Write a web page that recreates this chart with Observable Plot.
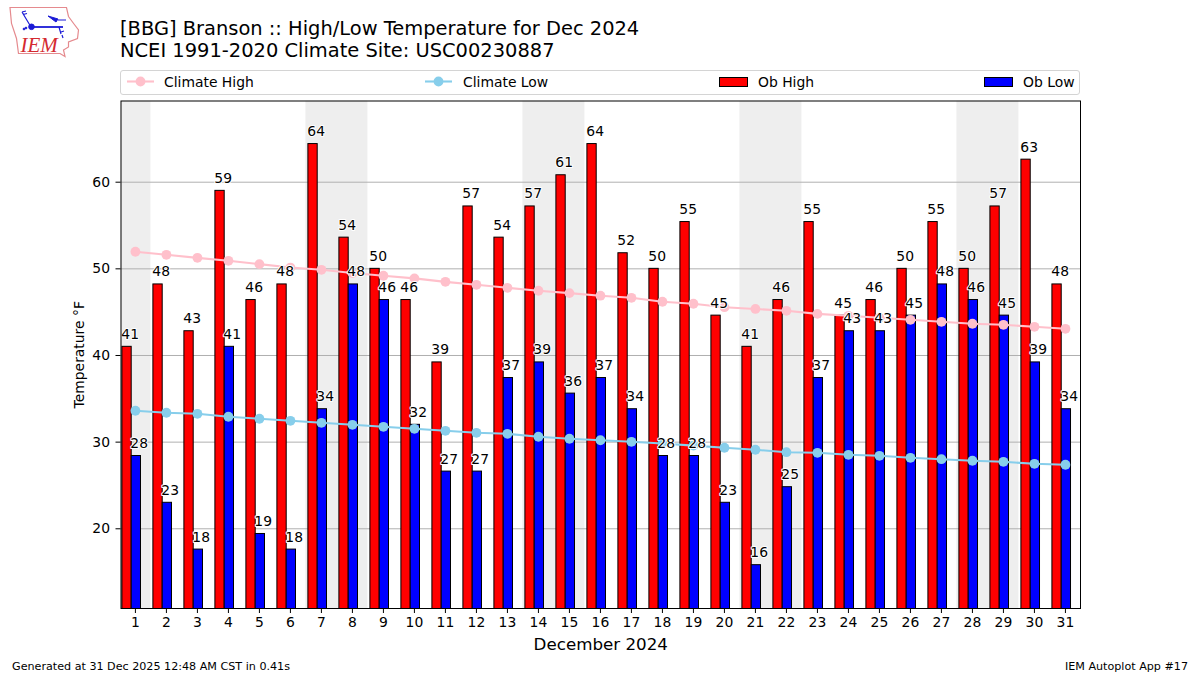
<!DOCTYPE html>
<html>
<head>
<meta charset="utf-8">
<script src="https://cdn.jsdelivr.net/npm/d3@7"></script>
<script src="https://cdn.jsdelivr.net/npm/@observablehq/plot@0.6"></script>
<style>
  html, body { margin: 0; padding: 0; background: #fff; }
  body { width: 1200px; height: 675px; overflow: hidden; font-family: "DejaVu Sans", sans-serif; color: #000; }
  #page { position: relative; width: 1200px; height: 675px; }
  #head { position: relative; height: 96px; }
  #logo { position: absolute; left: 0; top: 0; }
  #title { position: absolute; left: 120px; top: 18px; font-size: 19.44px; line-height: 22px; white-space: nowrap; }
  #legend { position: absolute; left: 120px; top: 70px; width: 958px; height: 23px; border: 1px solid #d4d4d4; border-radius: 3px; box-sizing: content-box; }
  .item { position: absolute; top: 0; height: 23px; line-height: 22px; font-size: 13.9px; white-space: nowrap; }
  .item svg { position: absolute; left: 0; top: 0; overflow: visible; }
  .item span { position: absolute; top: 0; }
  #chart svg { display: block; }
  #foot { position: absolute; left: 12px; right: 12px; top: 660px; font-size: 11.15px; line-height: 14px; display: flex; justify-content: space-between; }
</style>
</head>
<body>
<div id="page">
  <div id="head">
    <svg id="logo" width="90" height="65" viewBox="0 0 90 65">
      <path d="M10 7.5 L66.500 7.500 L68.500 16.500 L74 24 L78.500 30 L77.500 38.500 L68.500 42 L68.500 47 L63.500 50 L65 56.500 L60 53.500 L18.500 53.500 L16.500 38.500 L11.500 23.500 Z" fill="none" stroke="#e58a8e" stroke-width="1.200"/>
      <g fill="#1a1ad6" stroke="#1a1ad6">
        <path d="M31 27 H63" stroke-width="1.800" fill="none"/>
        <circle cx="31.500" cy="26.800" r="2.800"/>
        <path d="M31 27 L25 17 M25 17 L22 12 M22 12 l4 -1 M23 14.500 l4 -1" stroke-width="1.200" fill="none"/>
        <path d="M48 16 L58 19 L56 22 Z" stroke-width="1"/>
        <path d="M58 20 H66 M59 27 L61 34 M61 32 l3 -1 M62 35 l1 3" stroke-width="1.200" fill="none"/>
        <circle cx="24" cy="29" r="0.900"/><circle cx="26" cy="28" r="0.900"/>
      </g>
      <text x="20.500" y="52" font-family="Liberation Serif" font-style="italic" font-size="21" fill="#d42a30">IEM</text>
    </svg>
    <div id="title">[BBG] Branson :: High/Low Temperature for Dec 2024<br>NCEI 1991-2020 Climate Site: USC00230887</div>
    <div id="legend"></div>
  </div>
  <div id="chart"></div>
  <div id="foot"><span>Generated at 31 Dec 2025 12:48 AM CST in 0.41s</span><span>IEM Autoplot App #17</span></div>
</div>
<script>
const days = [1,2,3,4,5,6,7,8,9,10,11,12,13,14,15,16,17,18,19,20,21,22,23,24,25,26,27,28,29,30,31];
const obHigh = [41,48.2,42.8,59,46.4,48.2,64.4,53.6,50,46.4,39.2,57.2,53.6,57.2,60.8,64.4,51.8,50,55.4,44.6,41,46.4,55.4,44.6,46.4,50,55.4,50,57.2,62.6,48.2];
const obLow = [28.4,23,17.6,41,19.4,17.6,33.8,48.2,46.4,32,26.6,26.6,37.4,39.2,35.6,37.4,33.8,28.4,28.4,23,15.8,24.8,37.4,42.8,42.8,44.6,48.2,46.4,44.6,39.2,33.8];
const obHighLabels = [41,48,43,59,46,48,64,54,50,46,39,57,54,57,61,64,52,50,55,45,41,46,55,45,46,50,55,50,57,63,48];
const obLowLabels = [28,23,18,41,19,18,34,48,46,32,27,27,37,39,36,37,34,28,28,23,16,25,37,43,43,45,48,46,45,39,34];
const climateHigh = [51.97,51.62,51.27,50.93,50.54,50.15,49.89,49.52,49.2,48.9,48.5,48.16,47.81,47.47,47.2,46.9,46.66,46.2,45.97,45.57,45.37,45.16,44.8,44.58,44.35,44.12,43.89,43.66,43.54,43.31,43.08];
const climateLow = [33.62,33.39,33.27,32.93,32.7,32.46,32.23,32.0,31.77,31.54,31.31,31.08,30.96,30.62,30.39,30.22,30.04,29.84,29.6,29.35,29.12,28.84,28.77,28.54,28.42,28.19,28.03,27.85,27.73,27.5,27.39];
const weekendStart = [0.5,6.5,13.5,20.5,27.5];
const weekendEnd = [1.5,8.5,15.5,22.5,29.5];
const yTicks = [20,30,40,50,60];

const rows = days.map((day,i) => ({day, high:obHigh[i], low:obLow[i], highLabel:String(obHighLabels[i]), lowLabel:String(obLowLabels[i]), cHigh:climateHigh[i], cLow:climateLow[i]}));
const weekends = weekendStart.map((s,i) => ({s, e:weekendEnd[i]}));

const barW = 0.3, split = -0.12;

const plot = Plot.plot({
  width: 1200,
  height: 559,
  marginLeft: 120.5,
  marginRight: 120,
  marginTop: 4.5,
  marginBottom: 47,
  style: {fontFamily: "DejaVu Sans", fontSize: "13.9px", background: "#fff", overflow: "visible", color: "#000"},
  x: {domain: [0.535, 31.486]},
  y: {domain: [10.8, 69.37]},
  marks: [
    Plot.rect(weekends, {x1:"s", x2:"e", fill:"#eeeeee", clip:true}),
    Plot.gridY(yTicks, {stroke:"#b0b0b0", strokeOpacity:1, strokeWidth:1}),
    Plot.rect(rows, {x1:d=>d.day+split-barW, x2:d=>d.day+split, y1:0, y2:"high", fill:"#ff0000", stroke:"#000", strokeWidth:1, clip:true}),
    Plot.rect(rows, {x1:d=>d.day+split, x2:d=>d.day+split+barW, y1:0, y2:"low", fill:"#0000ff", stroke:"#000", strokeWidth:1, clip:true}),
    Plot.line(rows, {x:"day", y:"cHigh", stroke:"#ffc0cb", strokeWidth:2.1}),
    Plot.dot(rows, {x:"day", y:"cHigh", fill:"#ffc0cb", r:4.9}),
    Plot.line(rows, {x:"day", y:"cLow", stroke:"#87ceeb", strokeWidth:2.1}),
    Plot.dot(rows, {x:"day", y:"cLow", fill:"#87ceeb", r:4.9}),
    Plot.text(rows, {x:d=>d.day-0.17, y:"high", text:"highLabel", fill:"#000", stroke:"#fff", strokeWidth:2, lineAnchor:"bottom", dy:-8, fontSize:13.9}),
    Plot.text(rows, {x:d=>d.day+0.12, y:"low", text:"lowLabel", fill:"#000", stroke:"#fff", strokeWidth:2, lineAnchor:"bottom", dy:-8, fontSize:13.9}),
    Plot.axisX(days, {tickSize:5, tickPadding:4, label:"December 2024", labelAnchor:"center", labelArrow:"none", labelOffset:41, fontSize:13.9, tickFormat:d=>String(d), stroke:"#000"}),
    Plot.axisY(yTicks, {tickSize:5, tickPadding:6, label:"Temperature °F", labelAnchor:"center", labelArrow:"none", labelOffset:47, fontSize:13.9, stroke:"#000"}),
    Plot.frame({stroke:"#000", strokeWidth:1})
  ]
});
document.getElementById("chart").appendChild(plot);

// x-axis title is larger than the tick labels
plot.querySelectorAll("text").forEach(t => { if (t.textContent === "December 2024") t.style.fontSize = "16.7px"; });

const legendItems = [
  {name:"Climate High", kind:"line", color:"#ffc0cb", left:6, text:37},
  {name:"Climate Low", kind:"line", color:"#87ceeb", left:304, text:38},
  {name:"Ob High", kind:"bar", color:"#ff0000", left:598, text:39},
  {name:"Ob Low", kind:"bar", color:"#0000ff", left:863, text:39}
];
const legend = document.getElementById("legend");
for (const it of legendItems) {
  const d = document.createElement("div");
  d.className = "item";
  d.style.left = it.left + "px";
  const glyph = it.kind === "line"
    ? `<svg width="27" height="23"><line x1="0" x2="27" y1="10.500" y2="10.500" stroke="${it.color}" stroke-width="2.100"/><circle cx="13.500" cy="10.500" r="4.900" fill="${it.color}"/></svg>`
    : `<svg width="29" height="23"><rect x="0.500" y="6.500" width="28" height="9" fill="${it.color}" stroke="#000" stroke-width="1"/></svg>`;
  d.innerHTML = glyph + `<span style="left:${it.text}px">${it.name}</span>`;
  legend.appendChild(d);
}
</script>
</body>
</html>
